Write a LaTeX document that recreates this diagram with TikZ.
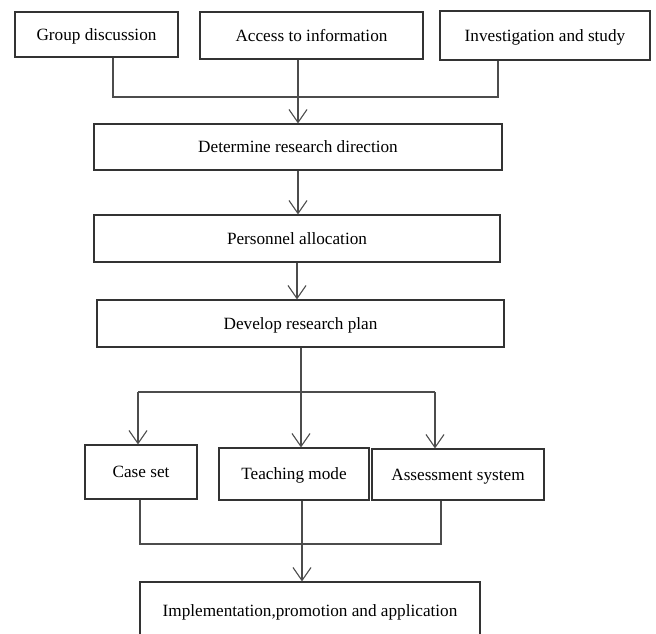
\documentclass[tikz,border=0pt]{standalone}
\usepackage{fontspec}
\setmainfont{Liberation Serif}
\usetikzlibrary{arrows.meta}

\begin{document}
\begin{tikzpicture}[x=1pt,y=-1pt,
	box/.style={draw=black!80,line width=1.1pt,inner sep=0pt,text depth=0pt,
		font=\fontsize{17.2}{20}\selectfont},
	link/.style={draw=black!70,line width=1.1pt},
	arr/.style={link,-{Straight Barb[length=13pt,width=18pt,line width=1.1pt]}}]
	\clip (0,0) rectangle (656,633);
	% top row
	\node[box,minimum width=163pt,minimum height=45pt] (grp) at (96.5,34.5) {Group discussion};
	\node[box,minimum width=223pt,minimum height=47pt] (acc) at (311.5,35.5) {Access to information};
	\node[box,minimum width=210pt,minimum height=49pt] (inv) at (545,35.5) {Investigation and study};
	% main column
	\node[box,minimum width=408pt,minimum height=46pt] (det) at (298,147) {Determine research direction};
	\node[box,minimum width=406pt,minimum height=47pt] (per) at (297,238.5) {Personnel allocation};
	\node[box,minimum width=407pt,minimum height=47pt] (dev) at (300.5,323.5) {Develop research plan};
	% second row
	\node[box,minimum width=112pt,minimum height=54pt] (cas) at (141,472) {Case set};
	\node[box,minimum width=150pt,minimum height=52pt] (tea) at (294,474) {Teaching mode};
	\node[box,minimum width=172pt,minimum height=51pt] (ase) at (458,474.5) {Assessment system};
	\node[box,minimum width=340pt,minimum height=58pt] (imp) at (310,611) {Implementation,promotion and application};

	\coordinate (jl) at (113,97);
	\coordinate (jr) at (498,97);
	\coordinate (sp) at (301,392);
	\coordinate (sl) at (138,392);
	\coordinate (sr) at (435,392);
	\coordinate (ml) at (140,544);
	\coordinate (mm) at (302,544);
	\coordinate (mr) at (441,544);

	\draw[link] (jl |- grp.south) -- (jl) -- (jr) -- (jr |- inv.south);
	\draw[arr] (acc.south -| det.north) -- (det.north);
	\draw[arr] (det.south) -- (det.south |- per.north);
	\draw[arr] (per.south) -- (per.south |- dev.north);
	\draw[link] (dev.south -| sp) -- (sp);
	\draw[link] (sl) -- (sr);
	\draw[arr] (sl) -- (sl |- cas.north);
	\draw[arr] (sp) -- (sp |- tea.north);
	\draw[arr] (sr) -- (sr |- ase.north);
	\draw[link] (ml |- cas.south) -- (ml) -- (mr) -- (mr |- ase.south);
	\draw[arr] (mm |- tea.south) -- (mm |- imp.north);
\end{tikzpicture}
\end{document}
